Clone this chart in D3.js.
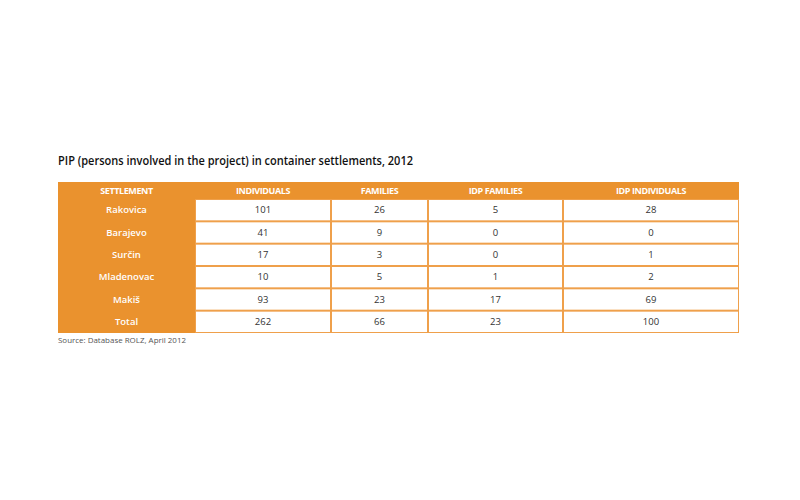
<!DOCTYPE html>
<html>
<head>
<meta charset="utf-8">
<script src="https://cdn.jsdelivr.net/npm/d3@7"></script>
<style>
  body { margin: 0; background: #fff; }
  svg { display: block; }
</style>
</head>
<body>
<svg id="chart" width="800" height="500"></svg>
<script>
const title = 'PIP (persons involved in the project) in container settlements, 2012';
const source = 'Source: Database ROLZ, April 2012';

const columns = ['SETTLEMENT', 'INDIVIDUALS', 'FAMILIES', 'IDP FAMILIES', 'IDP INDIVIDUALS'];
const settlements = ['Rakovica', 'Barajevo', 'Surčin', 'Mladenovac', 'Makiš', 'Total'];
const individuals = [101, 41, 17, 10, 93, 262];
const families = [26, 9, 3, 5, 23, 66];
const idpFamilies = [5, 0, 0, 1, 17, 23];
const idpIndividuals = [28, 0, 1, 2, 69, 100];

// layout
const colWidths = [137, 136, 97, 135, 176];
const tableLeft = 58, tableTop = 182, headerH = 17, tableBottom = 333;
const orange = '#ea922e';
const lineOrange = '#efa04b';

const svg = d3.select('#chart');

const colX = [tableLeft, ...d3.cumsum(colWidths).map(d => tableLeft + d)];
const tableRight = colX[colX.length - 1];
const x = d3.scaleOrdinal().domain(columns).range(colX.slice(0, -1));
const w = d3.scaleOrdinal().domain(columns).range(colWidths);
const y = d3.scaleBand().domain(settlements).range([tableTop + headerH, tableBottom]);

const values = [individuals, families, idpFamilies, idpIndividuals];
const cells = [];
settlements.forEach((s, i) => {
    values.forEach((arr, j) => {
        cells.push({ row: s, col: columns[j + 1], value: arr[i] });
    });
});

// title
svg.append('text')
    .attr('x', tableLeft)
    .attr('y', 164.5)
    .attr('font-family', 'Open Sans, sans-serif')
    .attr('font-size', '12.5px')
    .attr('font-weight', 600)
    .attr('fill', '#111')
    .attr('textLength', 355)
    .attr('lengthAdjust', 'spacingAndGlyphs')
    .text(title);

// table background (orange grid lines)
svg.append('rect')
    .attr('x', tableLeft)
    .attr('y', tableTop)
    .attr('width', tableRight - tableLeft)
    .attr('height', tableBottom - tableTop)
    .attr('fill', lineOrange);

// header row + first column
svg.append('rect')
    .attr('x', tableLeft)
    .attr('y', tableTop)
    .attr('width', tableRight - tableLeft)
    .attr('height', headerH)
    .attr('fill', orange);

svg.append('rect')
    .attr('x', tableLeft)
    .attr('y', tableTop)
    .attr('width', w('SETTLEMENT'))
    .attr('height', tableBottom - tableTop)
    .attr('fill', orange);

// white data cells
svg.selectAll('rect.cell')
    .data(cells)
    .enter()
    .append('rect')
    .attr('class', 'cell')
    .attr('x', d => x(d.col) + 1)
    .attr('y', d => y(d.row) + 1)
    .attr('width', d => w(d.col) - 2)
    .attr('height', y.bandwidth() - 2)
    .attr('fill', '#fff');

// header labels
svg.selectAll('text.head')
    .data(columns)
    .enter()
    .append('text')
    .attr('class', 'head')
    .attr('x', d => x(d) + w(d) / 2)
    .attr('y', tableTop + headerH / 2)
    .attr('dy', '0.35em')
    .attr('text-anchor', 'middle')
    .attr('font-family', 'Open Sans, sans-serif')
    .attr('font-size', '9px')
    .attr('font-weight', 700)
    .attr('letter-spacing', '-0.4px')
    .attr('fill', '#fff')
    .text(d => d);

// row labels
svg.selectAll('text.rowlabel')
    .data(settlements)
    .enter()
    .append('text')
    .attr('class', 'rowlabel')
    .attr('x', x('SETTLEMENT') + w('SETTLEMENT') / 2)
    .attr('y', d => y(d) + y.bandwidth() / 2)
    .attr('dy', '0.35em')
    .attr('text-anchor', 'middle')
    .attr('font-family', 'Open Sans, sans-serif')
    .attr('font-size', '9.5px')
    .attr('font-weight', 600)
    .attr('fill', '#fff')
    .text(d => d);

// values
svg.selectAll('text.val')
    .data(cells)
    .enter()
    .append('text')
    .attr('class', 'val')
    .attr('x', d => x(d.col) + w(d.col) / 2)
    .attr('y', d => y(d.row) + y.bandwidth() / 2)
    .attr('dy', '0.35em')
    .attr('text-anchor', 'middle')
    .attr('font-family', 'Open Sans, sans-serif')
    .attr('font-size', '9.5px')
    .attr('fill', '#333')
    .text(d => d.value);

// source
svg.append('text')
    .attr('x', tableLeft)
    .attr('y', 343)
    .attr('font-family', 'Open Sans, sans-serif')
    .attr('font-size', '8px')
    .attr('fill', '#555')
    .attr('textLength', 128)
    .attr('lengthAdjust', 'spacingAndGlyphs')
    .text(source);
</script>
</body>
</html>
